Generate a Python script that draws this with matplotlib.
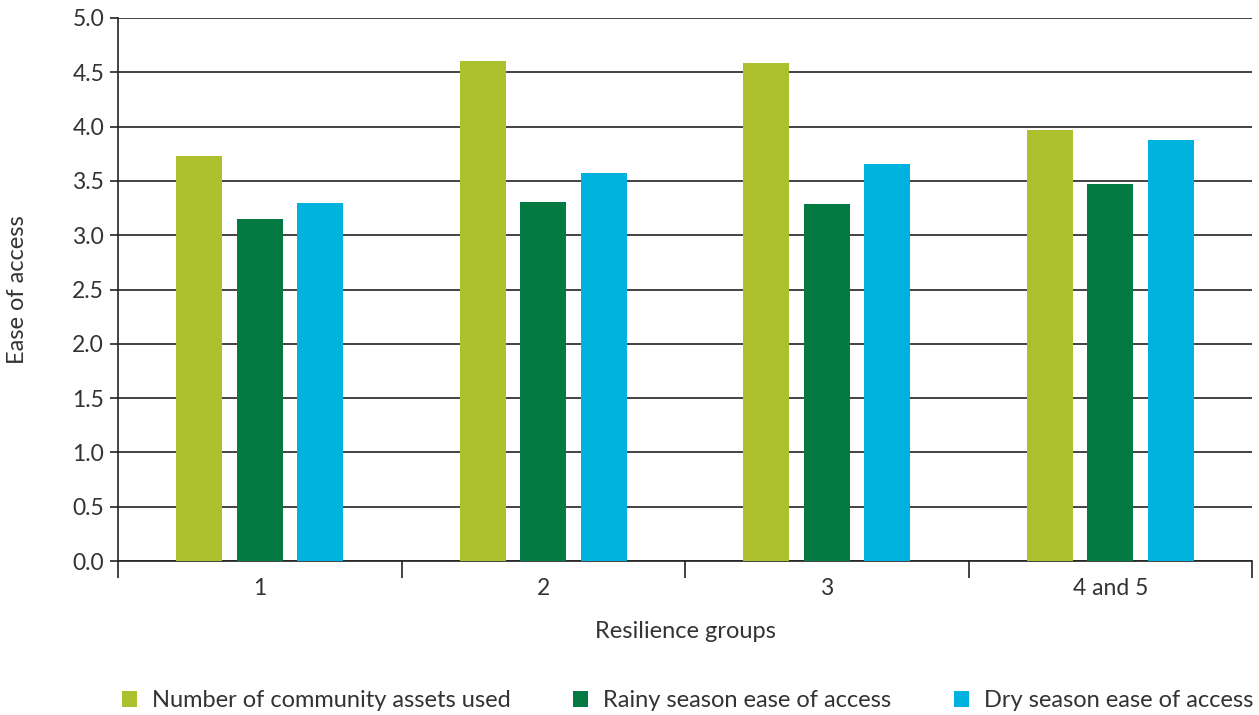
import numpy as np
import matplotlib
matplotlib.use('Agg')
import matplotlib.pyplot as plt

# data
groups = ['1', '2', '3', '4 and 5']
assets_used = [3.73, 4.60, 4.59, 3.97]
rainy_access = [3.15, 3.31, 3.29, 3.47]
dry_access = [3.30, 3.57, 3.66, 3.88]

series = [
    ('Number of community assets used', assets_used, '#ADC12F'),
    ('Rainy season ease of access', rainy_access, '#047A43'),
    ('Dry season ease of access', dry_access, '#00B3DE'),
]

plt.rcParams['font.family'] = ['Lato', 'DejaVu Sans']
TEXT = '#333333'
FS = 16.5

fig = plt.figure(figsize=(12.59, 7.15), dpi=100)
ax = fig.add_axes([118 / 1259, 154 / 715, 1134 / 1259, 543 / 715])

x = np.arange(len(groups))
width = 0.162
step = 0.2135
for i, (name, vals, color) in enumerate(series):
    ax.bar(x + (i - 1) * step, vals, width, color=color, label=name, zorder=3)

ax.set_xlim(-0.5, len(groups) - 0.5)
ax.set_ylim(0, 5)
ax.set_yticks(np.arange(0, 5.01, 0.5))
ax.set_yticklabels([f'{v:.1f}' for v in np.arange(0, 5.01, 0.5)])
ax.grid(axis='y', color='#222222', linewidth=1.2, zorder=0)

# category labels in the middle, tick marks on the group boundaries
ax.set_xticks(x)
ax.set_xticklabels(groups)
ax.tick_params(axis='x', length=0, pad=12, labelsize=FS, labelcolor=TEXT)
ax.set_xticks(np.arange(-0.5, len(groups), 1.0), minor=True)
ax.tick_params(axis='x', which='minor', length=12, width=1.2, color='#222222', direction='out')
ax.tick_params(axis='y', length=6, width=1.2, color='#222222', labelsize=FS, labelcolor=TEXT, pad=4)

for s in ['top', 'right']:
    ax.spines[s].set_visible(False)
ax.spines['left'].set_color('#222222')
ax.spines['bottom'].set_color('#222222')
ax.spines['left'].set_linewidth(1.2)
ax.spines['bottom'].set_linewidth(1.2)

ax.set_xlabel('Resilience groups', fontsize=17, color=TEXT)
ax.xaxis.set_label_coords(0.5, -60 / 543)
ax.set_ylabel('Ease of access', fontsize=17, color=TEXT)
ax.yaxis.set_label_coords(-90 / 1134, 0.5)

fig.legend(loc='center left', bbox_to_anchor=(122 / 1259, 0.02), ncol=3, frameon=False,
           fontsize=17, labelcolor=TEXT, handlelength=0.62, handleheight=0.62,
           handletextpad=0.65, columnspacing=2.65, borderpad=0, borderaxespad=0)

fig.savefig('out.png', dpi=100)
